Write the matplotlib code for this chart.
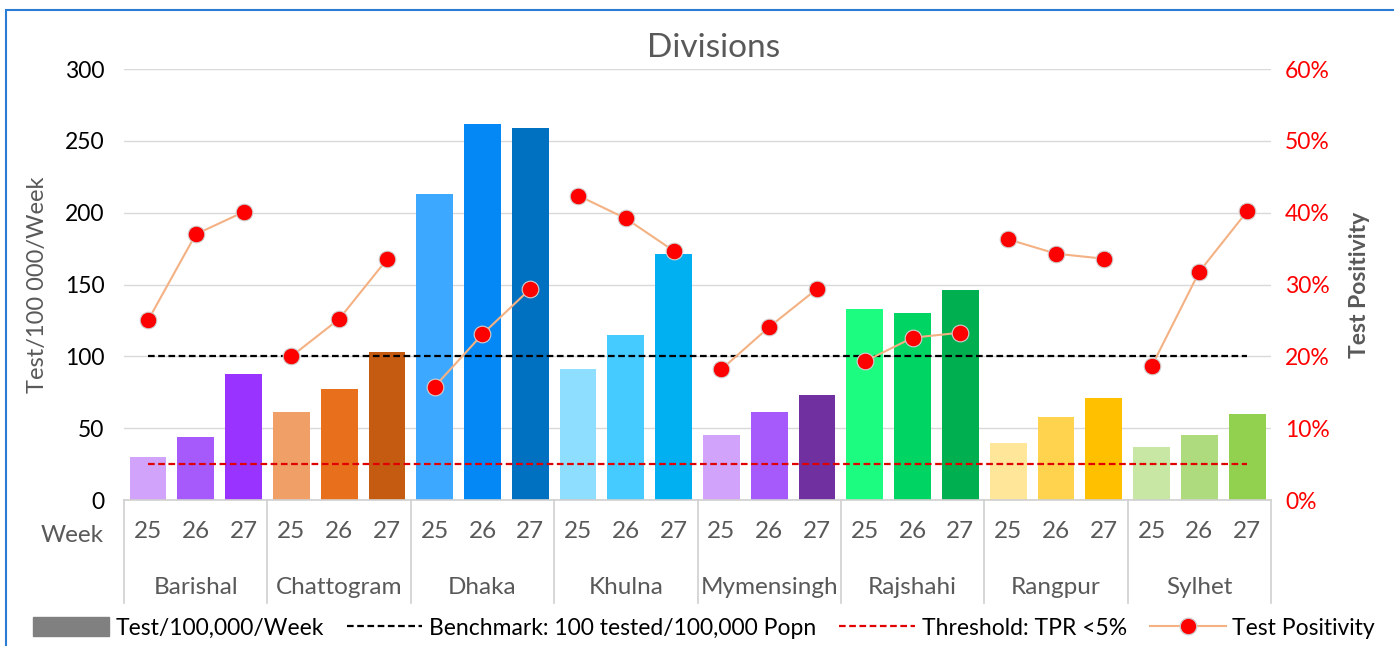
import numpy as np
import matplotlib.pyplot as plt
from matplotlib.patches import Patch, Rectangle
from matplotlib.lines import Line2D
import matplotlib.transforms as mtransforms

plt.rcParams['font.family'] = ['Lato', 'DejaVu Sans']

divisions = ['Barishal', 'Chattogram', 'Dhaka', 'Khulna', 'Mymensingh', 'Rajshahi', 'Rangpur', 'Sylhet']
weeks = ['25', '26', '27']

tests = [
    [30, 44, 88],
    [61, 77, 103],
    [213, 262, 259],
    [91, 115, 171],
    [45, 61, 73],
    [133, 130, 146],
    [40, 58, 71],
    [37, 45, 60],
]
positivity = [
    [25.0, 37.0, 40.1],
    [20.0, 25.2, 33.5],
    [15.8, 23.1, 29.4],
    [42.4, 39.2, 34.7],
    [18.2, 24.1, 29.4],
    [19.3, 22.6, 23.3],
    [36.3, 34.3, 33.6],
    [18.6, 31.8, 40.2],
]
bar_colors = [
    ['#D2A3FA', '#A65AFB', '#9933FF'],
    ['#F0A066', '#E86F1C', '#C55A11'],
    ['#3DA8FF', '#0388F5', '#0070C0'],
    ['#8EDFFF', '#45CBFF', '#00B0F0'],
    ['#D2A3FA', '#A65AFB', '#7030A0'],
    ['#1CFC80', '#00D462', '#00B050'],
    ['#FFE699', '#FFD34D', '#FFC000'],
    ['#C8E6A4', '#AFDB7F', '#92D050'],
]
benchmark = 100
threshold = 5

fig = plt.figure(figsize=(13.94, 6.46), dpi=100)
ax = fig.add_axes([0.089, 0.226, 0.8228, 0.667])
ax2 = ax.twinx()

n = len(weeks)
for i, div in enumerate(divisions):
    xs = np.arange(n) + i * n
    ax.bar(xs, tests[i], width=0.77, color=bar_colors[i], zorder=2)
    ax2.plot(xs, positivity[i], color='#F4B183', lw=1.5, marker='o', ms=12,
             mfc='#FF0000', mec='#D0D0D0', mew=0.8, zorder=5)

total = n * len(divisions)
ax2.plot([0, total - 1], [benchmark / 5, benchmark / 5], color='black', ls=(0, (3, 1.6)), lw=1.6, zorder=3)
ax2.plot([0, total - 1], [threshold, threshold], color='#E00000', ls=(0, (3, 1.6)), lw=1.6, zorder=3)

ax.set_xlim(-0.5, total - 0.5)
ax.set_ylim(0, 300)
ax.set_yticks(range(0, 301, 50))
ax2.set_ylim(0, 60)
ax2.set_yticks(range(0, 61, 10))
ax2.set_yticklabels([f'{v}%' for v in range(0, 61, 10)])

ax.grid(axis='y', color='#D9D9D9', lw=1, zorder=0)
ax.set_axisbelow(True)
for a in (ax, ax2):
    for s in ['top', 'left', 'right', 'bottom']:
        a.spines[s].set_visible(False)

ax.tick_params(axis='y', length=0, pad=14, labelsize=16.5, labelcolor='black')
ax2.tick_params(axis='y', length=0, pad=10, labelsize=16.5, labelcolor='#FF0000')

ax.set_xticks(range(total))
ax.set_xticklabels(weeks * len(divisions))
ax.tick_params(axis='x', length=0, pad=15, labelsize=17.5, labelcolor='#595959')

trans = mtransforms.blended_transform_factory(ax.transData, ax.transAxes)
ax.plot([-0.5, total - 0.5], [0, 0], transform=trans, color='#D0D0D0', lw=1.2, clip_on=False)
for i, div in enumerate(divisions):
    ax.text(i * n + 1, -0.202, div, transform=trans, ha='center', va='center',
            fontsize=17.5, color='#595959')
for k in range(len(divisions) + 1):
    ax.plot([k * n - 0.5] * 2, [0, -0.239], transform=trans, color='#D0D0D0', lw=1.2, clip_on=False)
ax.text(-0.045, -0.083, 'Week', transform=ax.transAxes, ha='center', va='center',
        fontsize=17.5, color='#595959')

ax.set_ylabel('Test/100 000/Week', fontsize=17, color='#595959', labelpad=12)
ax2.set_ylabel('Test Positivity', fontsize=16.5, color='#595959', fontweight='bold', labelpad=14)

fig.text(0.512, 0.926, 'Divisions', ha='center', va='center', fontsize=24, color='#595959')

handles = [
    Patch(color='#808080'),
    Line2D([], [], color='black', ls=(0, (3, 1.6)), lw=1.6),
    Line2D([], [], color='#E00000', ls=(0, (3, 1.6)), lw=1.6),
    Line2D([], [], color='#F4B183', lw=1.5, marker='o', ms=12, mfc='#FF0000', mec='#D0D0D0'),
]
labels = ['Test/100,000/Week', 'Benchmark: 100 tested/100,000 Popn', 'Threshold: TPR <5%', 'Test Positivity']
fig.legend(handles, labels, loc='center', bbox_to_anchor=(0.505, 0.028), ncol=4, frameon=False,
           fontsize=16.5, handlelength=3.3, handleheight=0.9, columnspacing=1.0, handletextpad=0.3)

fig.patches.append(Rectangle((6 / 1394, -0.1), 1.2, 636 / 646 + 0.1, transform=fig.transFigure,
                             fill=False, ec='#2B7CD3', lw=1.5))

fig.savefig('out.png', dpi=100)
